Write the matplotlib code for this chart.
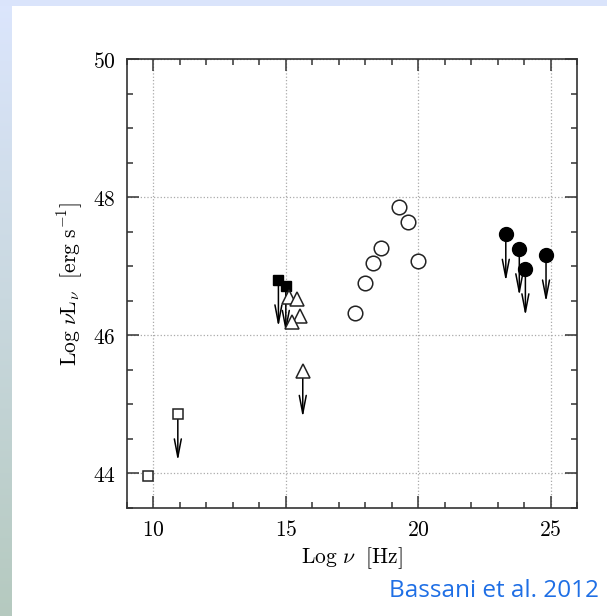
import numpy as np
import matplotlib
matplotlib.use("Agg")
import matplotlib.pyplot as plt
from matplotlib.ticker import MultipleLocator, FuncFormatter

plt.rcParams['mathtext.fontset'] = 'cm'
plt.rcParams['font.family'] = 'DejaVu Serif'

# radio (open squares)
radio_x = [9.79, 10.92]
radio_y = [43.96, 44.86]
radio_ul = [False, True]

# optical (filled squares), upper limits
opt_x = [14.72, 15.00]
opt_y = [46.80, 46.72]
opt_ul = [True, True]

# UV (open triangles)
uv_x = [15.13, 15.43, 15.54, 15.25, 15.64]
uv_y = [46.56, 46.53, 46.28, 46.19, 45.49]
uv_ul = [False, False, False, False, True]

# X-ray (open circles)
xr_x = [17.60, 18.00, 18.31, 18.60, 19.29, 19.60, 20.01]
xr_y = [46.33, 46.76, 47.04, 47.26, 47.86, 47.64, 47.07]

# gamma-ray (filled circles), upper limits
gm_x = [23.31, 23.82, 24.05, 24.83]
gm_y = [47.46, 47.25, 46.96, 47.16]
gm_ul = [True, True, True, True]

ul_len = 0.68

fig = plt.figure(figsize=(6.07, 6.16), dpi=100)
fig.patch.set_facecolor('#dae4fb')

# slide background: white panel and a soft gradient strip on the left
bg = fig.add_axes([12 / 607, 0, 1 - 12 / 607, 1 - 6 / 616])
bg.set_facecolor('white')
bg.set_xticks([])
bg.set_yticks([])
for s in bg.spines.values():
    s.set_visible(False)
strip = fig.add_axes([0, 0, 12 / 607, 1 - 6 / 616])
grad = np.linspace(0, 1, 256).reshape(-1, 1)
top_c = np.array([0.86, 0.90, 0.99])
bot_c = np.array([0.71, 0.79, 0.75])
img = top_c * (1 - grad[..., None]) + bot_c * grad[..., None]
strip.imshow(img, aspect='auto', extent=[0, 1, 0, 1])
strip.axis('off')

ax = fig.add_axes([127 / 607, 1 - 508 / 616, 450 / 607, 449 / 616])
ax.set_xlim(9, 26)
ax.set_ylim(43.5, 50)
ax.grid(True, which='major', linestyle=':', color='#aaaaaa', lw=0.9)
ax.set_axisbelow(True)

ax.xaxis.set_major_locator(MultipleLocator(5))
ax.xaxis.set_minor_locator(MultipleLocator(1))
ax.yaxis.set_major_locator(MultipleLocator(2))
ax.yaxis.set_minor_locator(MultipleLocator(0.5))
fmt = FuncFormatter(lambda v, p: '$%d$' % round(v))
ax.xaxis.set_major_formatter(fmt)
ax.yaxis.set_major_formatter(fmt)
ax.tick_params(which='both', direction='in', top=True, right=True,
               color='#333333', labelsize=15.5)
ax.tick_params(which='major', length=8.5, width=1.1)
ax.tick_params(which='minor', length=4.5, width=1.1)
ax.tick_params(axis='x', pad=8)
ax.tick_params(axis='y', pad=8)
for s in ax.spines.values():
    s.set_color('#333333')
    s.set_linewidth(1.2)


def limits(xs, ys, flags):
    for x, y, f in zip(xs, ys, flags):
        if f:
            ax.annotate('', xy=(x, y - ul_len), xytext=(x, y),
                        arrowprops=dict(arrowstyle='->,head_length=1.3,head_width=0.25',
                                        lw=1.1, color='black', shrinkA=0, shrinkB=0),
                        zorder=2)


limits(radio_x, radio_y, radio_ul)
limits(opt_x, opt_y, opt_ul)
limits(uv_x, uv_y, uv_ul)
limits(gm_x, gm_y, gm_ul)

ax.plot(radio_x, radio_y, 's', ms=7.5, mfc='white', mec='#222222', mew=1.1, zorder=3)
ax.plot(opt_x, opt_y, 's', ms=7.5, mfc='black', mec='black', zorder=3)
ax.plot(uv_x, uv_y, '^', ms=9.5, mfc='white', mec='#222222', mew=1.1, zorder=3)
ax.plot(xr_x, xr_y, 'o', ms=10.5, mfc='white', mec='#222222', mew=1.1, zorder=3)
ax.plot(gm_x, gm_y, 'o', ms=10, mfc='black', mec='black', zorder=3)

ax.set_xlabel(r'$\mathrm{Log}\ \nu\ \ [\mathrm{Hz}]$', fontsize=15.5, labelpad=3)
ax.set_ylabel(r'$\mathrm{Log}\ \nu \mathrm{L}_\nu\ \ [\mathrm{erg\ s}^{-1}]$',
              fontsize=15.5, labelpad=6)

fig.text(0.987, 0.040, 'Bassani et al. 2012', color='#1f6fe5',
         fontsize=17.5, family='Open Sans', ha='right', va='center')

fig.savefig('out.png', dpi=100)
